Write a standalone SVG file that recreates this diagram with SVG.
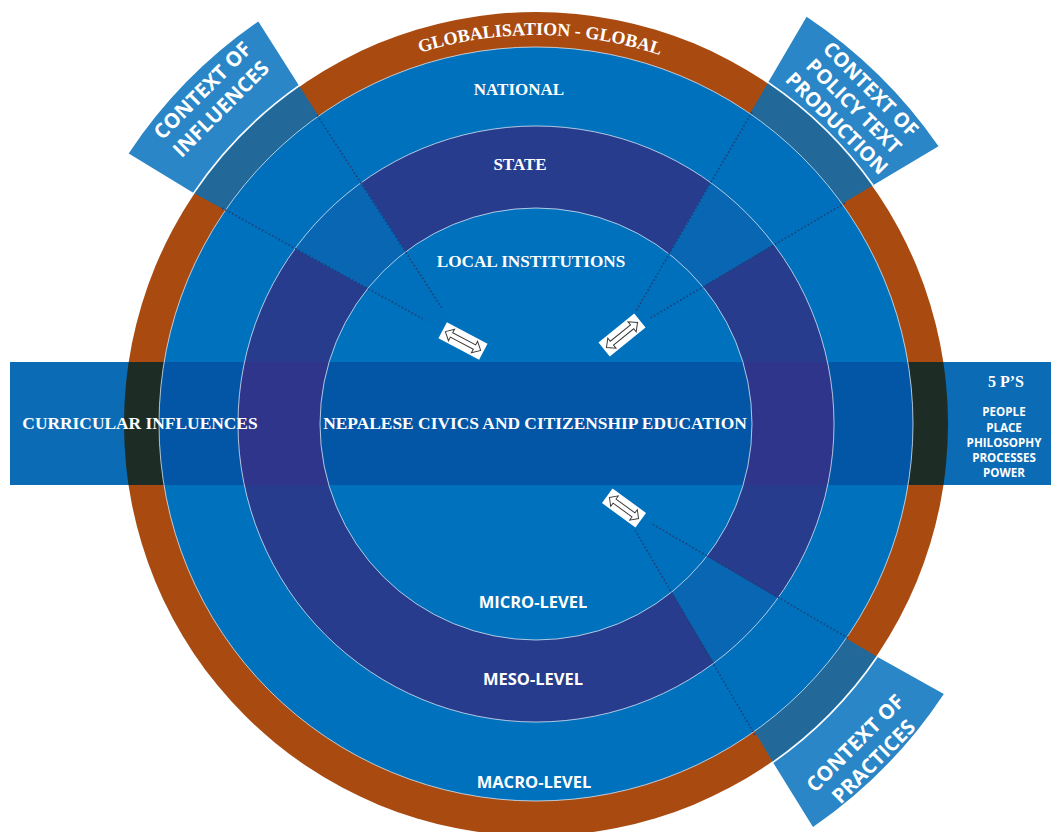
<svg xmlns="http://www.w3.org/2000/svg" width="1051" height="832" viewBox="0 0 1051 832">
<defs>
<style>
.serif{font-family:"Liberation Serif","Times New Roman",serif;font-weight:bold;fill:#fff;text-anchor:middle}
.sans{font-family:"Open Sans","Noto Sans","Liberation Sans",sans-serif;font-weight:bold;fill:#fff;text-anchor:middle}
.ringline{fill:none;stroke:#e6eef8;stroke-width:1;stroke-opacity:0.75}
.wedge{fill:#0070bb;fill-opacity:0.8}
.label{fill:#2a86c6}
.edge{fill:none;stroke:#fff;stroke-width:1.6}
.dots{stroke:#1d3f7c;stroke-width:1.6;stroke-dasharray:1.6 2.2;fill:none}
.box{fill:#fff}
.arrow{fill:#fff;stroke:#3a3a3a;stroke-width:1}
</style>
<clipPath id="bandclip"><rect x="10" y="362" width="1041" height="123"/></clipPath>
<path id="globalArc" d="M 199.1 229.5 A 389 389 0 0 1 876.9 236.6"/>
<g id="dblArrow">
<rect x="-23" y="-9" width="46" height="18" class="box"/>
<path class="arrow" d="M -20 0 L -13 -6.5 L -13 -2.5 L 13 -2.5 L 13 -6.5 L 20 0 L 13 6.5 L 13 2.5 L -13 2.5 L -13 6.5 Z"/>
</g>
</defs>
<rect width="1051" height="832" fill="#fff"/>

<g id="global-ring">
<circle cx="536" cy="424" r="412" fill="#a94b11"/>
<text class="serif" font-size="18"><textPath href="#globalArc" startOffset="50%">GLOBALISATION - GLOBAL</textPath></text>
</g>
<g id="national-ring">
<circle cx="536" cy="424" r="377" fill="#0071bc"/>
</g>
<g id="state-ring">
<circle cx="536" cy="424" r="298" fill="#283c8e"/>
</g>
<g id="local-core">
<circle cx="536" cy="424" r="216" fill="#0071bc"/>
</g>

<g id="wedges">
<path class="wedge" d="M 463 341 L 299.1 85.7 A 413 413 0 0 0 193.6 193.1 Z"/>
<path class="wedge" d="M 622 335 L 768.1 82.4 A 413 413 0 0 1 873.1 185.3 Z"/>
<path class="wedge" d="M 620 505 L 877.2 656.7 A 413 413 0 0 1 772.9 762.3 Z"/>
</g>

<g id="band">
<rect x="10" y="362" width="1041" height="123" fill="#0b6cb5"/>
<g clip-path="url(#bandclip)">
<circle cx="536" cy="424" r="412" fill="#1d2d25"/>
<circle cx="536" cy="424" r="377" fill="#0356a5"/>
<circle cx="536" cy="424" r="298" fill="#2e358b"/>
<circle cx="536" cy="424" r="216" fill="#0356a5"/>
</g>
</g>

<g id="ring-lines">
<circle class="ringline" cx="536" cy="424" r="377"/>
<circle class="ringline" cx="536" cy="424" r="298"/>
<circle class="ringline" cx="536" cy="424" r="216"/>
</g>

<g id="context-of-influences">
<path class="label" d="M 258.3 21.5 A 489 489 0 0 0 128.7 153.4 L 193.6 193.1 A 413 413 0 0 1 299.1 85.7 Z"/>
<path class="edge" d="M 193.6 193.1 A 413 413 0 0 1 299.1 85.7"/>
<g transform="translate(536,424) rotate(-45)">
<text class="sans" font-size="20.5" x="0" y="-464.5">CONTEXT OF</text>
<text class="sans" font-size="20.5" x="0" y="-438.5">INFLUENCES</text>
</g>
</g>

<g id="context-of-policy-text-production">
<path class="label" d="M 806.6 16.7 A 489 489 0 0 1 938.5 146.3 L 873.1 185.3 A 413 413 0 0 0 768.1 82.4 Z"/>
<path class="edge" d="M 873.1 185.3 A 413 413 0 0 0 768.1 82.4"/>
<g transform="translate(536,424) rotate(45)">
<text class="sans" font-size="20" x="0" y="-466.5">CONTEXT OF</text>
<text class="sans" font-size="20" x="0" y="-442.5">POLICY TEXT</text>
<text class="sans" font-size="20" x="0" y="-418.5">PRODUCTION</text>
</g>
</g>

<g id="context-of-practices">
<path class="label" d="M 943.8 693.9 A 489 489 0 0 1 813.0 827.0 L 772.9 762.3 A 413 413 0 0 0 877.2 656.7 Z"/>
<path class="edge" d="M 772.9 762.3 A 413 413 0 0 0 877.2 656.7"/>
<g transform="translate(536,424) rotate(-45)">
<text class="sans" font-size="20.5" x="0" y="458.5">CONTEXT OF</text>
<text class="sans" font-size="20.5" x="0" y="484.5">PRACTICES</text>
</g>
</g>

<g id="connectors">
<line class="dots" x1="317" y1="115" x2="441.7" y2="307.8"/>
<line class="dots" x1="222" y1="208" x2="422.6" y2="318.8"/>
<line class="dots" x1="752" y1="112" x2="635.1" y2="312.3"/>
<line class="dots" x1="845" y1="203" x2="649.6" y2="318.5"/>
<line class="dots" x1="848" y1="638" x2="650.9" y2="523.2"/>
<line class="dots" x1="755" y1="735" x2="635.3" y2="530.7"/>
<use href="#dblArrow" transform="translate(463,341) rotate(28)"/>
<use href="#dblArrow" transform="translate(622,335) rotate(-39)"/>
<use href="#dblArrow" transform="translate(624,508) rotate(36) scale(0.9,1)"/>
</g>

<g id="ring-labels">
<text class="serif" font-size="17" x="519" y="95">NATIONAL</text>
<text class="serif" font-size="17" x="520" y="170">STATE</text>
<text class="serif" font-size="17.2" x="531" y="267">LOCAL INSTITUTIONS</text>
<text class="sans" font-size="16.5" x="533" y="608">MICRO-LEVEL</text>
<text class="sans" font-size="16.5" x="533" y="685">MESO-LEVEL</text>
<text class="sans" font-size="16.5" x="534" y="788">MACRO-LEVEL</text>
</g>

<g id="band-labels">
<text class="serif" font-size="17.4" x="140" y="429">CURRICULAR INFLUENCES</text>
<text class="serif" font-size="17.4" x="535" y="429">NEPALESE CIVICS AND CITIZENSHIP EDUCATION</text>
</g>

<g id="five-ps">
<text class="serif" font-size="16" x="1006" y="387">5 P’S</text>
<text class="sans" font-size="11.6" x="1004" y="416">PEOPLE</text>
<text class="sans" font-size="11.6" x="1004" y="432">PLACE</text>
<text class="sans" font-size="11.6" x="1004" y="447">PHILOSOPHY</text>
<text class="sans" font-size="11.6" x="1004" y="462">PROCESSES</text>
<text class="sans" font-size="11.6" x="1004" y="477">POWER</text>
</g>
</svg>
